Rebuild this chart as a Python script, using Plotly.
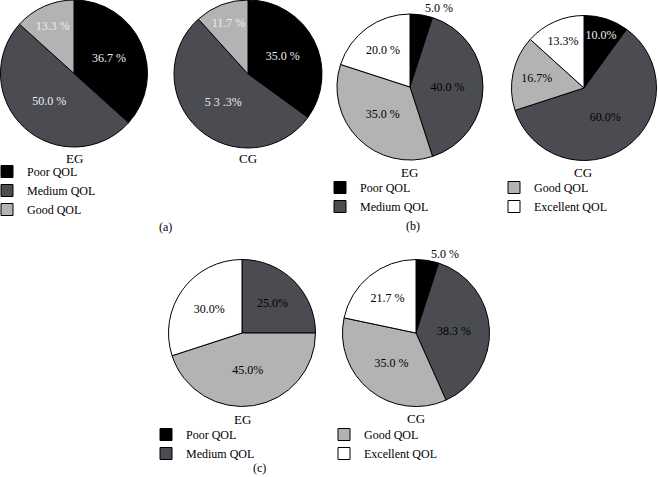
import plotly.graph_objects as go

W, H = 658, 477

categories = ["Poor QOL", "Medium QOL", "Good QOL", "Excellent QOL"]
colors = ["#000000", "#4b4c52", "#b3b3b3", "#ffffff"]

# panel (a): three categories
a_eg_values = [36.7, 50.0, 13.3]
a_eg_text = ["36.7 %", "50.0 %", "13.3 %"]
a_cg_values = [35.0, 53.3, 11.7]
a_cg_text = ["35.0 %", "5 3 .3%", "11.7 %"]

# panel (b)
b_eg_values = [5.0, 40.0, 35.0, 20.0]
b_eg_text = ["5.0 %", "40.0 %", "35.0 %", "20.0 %"]
b_cg_values = [10.0, 60.0, 16.7, 13.3]
b_cg_text = ["10.0%", "60.0%", "16.7%", "13.3%"]

# panel (c)
c_eg_values = [0.0, 25.0, 45.0, 30.0]
c_eg_text = ["", "25.0%", "45.0%", "30.0%"]
c_cg_values = [5.0, 38.3, 35.0, 21.7]
c_cg_text = ["5.0 %", "38.3 %", "35.0 %", "21.7 %"]

group_names = ["EG", "CG"]
panel_tags = ["(a)", "(b)", "(c)"]

FONT = "Liberation Serif"


def px_dom(cx, cy, r):
    x0, x1 = cx - r, cx + r
    y0, y1 = cy - r, cy + r
    return dict(x=[max(0, x0 / W), min(1, x1 / W)],
                y=[max(0, 1 - y1 / H), min(1, 1 - y0 / H)])


def pie(values, text, ncat, dom, txtcolors, positions, legend=None, showlegend=False):
    return go.Pie(
        labels=categories[:ncat],
        values=values,
        text=text,
        textinfo="text",
        textposition=positions,
        insidetextorientation="horizontal",
        sort=False,
        direction="clockwise",
        rotation=0,
        marker=dict(colors=colors[:ncat], line=dict(color="#000000", width=1)),
        textfont=dict(family=FONT, size=12, color=txtcolors),
        outsidetextfont=dict(family=FONT, size=12, color="#000000"),
        domain=dom,
        showlegend=showlegend,
        legend=legend if legend else "legend",
        hoverinfo="label+percent",
    )


fig = go.Figure()

light = "#eeeeee"
fig.add_trace(pie(a_eg_values, a_eg_text, 3, px_dom(74, 73.5, 73.5),
                  [light] * 3, ["inside"] * 3, "legend", True))
fig.add_trace(pie(a_cg_values, a_cg_text, 3, px_dom(248, 74, 74),
                  [light] * 3, ["inside"] * 3, "legend", True))

fig.add_trace(pie(b_eg_values, b_eg_text, 4, px_dom(410, 87, 73),
                  ["#000"] * 4, ["outside", "inside", "inside", "inside"]))
fig.add_trace(pie(b_cg_values, b_cg_text, 4, px_dom(584, 88, 72.5),
                  [light, "#000", "#000", "#000"], ["inside"] * 4))

fig.add_trace(pie(c_eg_values, c_eg_text, 4, px_dom(242, 333, 73.5),
                  ["#000"] * 4, ["inside"] * 4))
fig.add_trace(pie(c_cg_values, c_cg_text, 4, px_dom(416, 333, 73.5),
                  ["#000"] * 4, ["outside", "inside", "inside", "inside"]))

# legend entries for panels (b) and (c), split into two columns each
legend_cols = {"legend2": [0, 1], "legend3": [2, 3], "legend4": [0, 1], "legend5": [2, 3]}
for lg, idxs in legend_cols.items():
    for i in idxs:
        fig.add_trace(go.Bar(
            x=[None], y=[None], name=categories[i], legend=lg,
            marker=dict(color=colors[i], line=dict(color="#000", width=1)),
            showlegend=True, hoverinfo="skip",
        ))

legend_font = dict(family=FONT, size=12, color="#000")


def leg(x, ytop):
    return dict(x=x / W, y=1 - ytop / H, xanchor="left", yanchor="top",
                bgcolor="rgba(0,0,0,0)", font=legend_font, orientation="v",
                itemclick=False, itemdoubleclick=False)


def label(text, x, y, size=13):
    return dict(text=text, x=x / W, y=1 - y / H, xref="paper", yref="paper",
                xanchor="center", yanchor="middle",
                showarrow=False, font=dict(family=FONT, size=size, color="#000"))


fig.update_layout(
    width=W, height=H,
    margin=dict(l=0, r=0, t=0, b=0, autoexpand=False),
    paper_bgcolor="#ffffff", plot_bgcolor="#ffffff",
    font=dict(family=FONT, color="#000"),
    xaxis=dict(visible=False), yaxis=dict(visible=False),
    legend=leg(-13, 157),
    legend2=leg(320, 173),
    legend3=leg(494, 173),
    legend4=leg(146, 420),
    legend5=leg(324, 420),
    annotations=[
        label(group_names[0], 74, 158),
        label(group_names[1], 248, 158),
        label(group_names[0], 410, 172),
        label(group_names[1], 583, 172),
        label(group_names[0], 242, 419),
        label(group_names[1], 416, 418),
        label(panel_tags[0], 165, 227, 12),
        label(panel_tags[1], 413, 226, 12),
        label(panel_tags[2], 259, 468, 12),
    ],
)

fig.write_html("out.html", config={"displayModeBar": False},
               post_script="document.body.style.margin='0';")
